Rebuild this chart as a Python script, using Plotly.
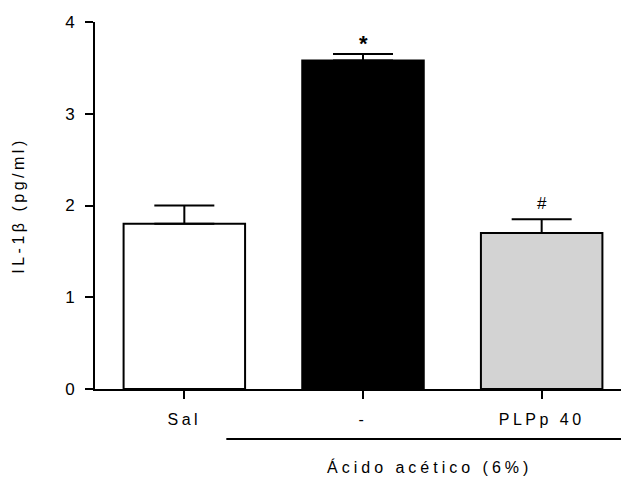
import plotly.graph_objects as go

categories = ["Sal", "-", "PLPp 40"]
means = [1.80, 3.58, 1.70]
errors = [0.20, 0.07, 0.15]
bar_colors = ["#ffffff", "#000000", "#d3d3d3"]
significance = ["", "*", "#"]
y_ticks = [0, 1, 2, 3, 4]
y_title = "IL-1β (pg/ml)"
group_label = "Ácido acético (6%)"

font = "Liberation Sans, Arial, sans-serif"


def spaced(t, px=2.5):
    return f'<span style="letter-spacing:{px}px">{t}</span>'


fig = go.Figure()
fig.add_trace(go.Bar(
    x=categories, y=means,
    width=0.68,
    marker=dict(color=bar_colors, line=dict(color="black", width=2)),
    error_y=dict(type="data", array=errors, arrayminus=[0]*len(errors),
                 symmetric=False, color="black", thickness=2, width=30),
    showlegend=False,
))

for c, m, e, s in zip(categories, means, errors, significance):
    if s:
        txt = "<b>*</b>" if s == "*" else s
        fig.add_annotation(x=c, y=m + e, text=txt, showarrow=False,
                           yanchor="bottom", yshift=-4 if s == "*" else 4,
                           font=dict(family=font, size=22 if s == "*" else 17, color="black"))

fig.add_shape(type="line", xref="x", yref="paper", x0=0.235, x1=2.5,
              y0=-0.136, y1=-0.136, line=dict(color="black", width=2))
fig.add_annotation(xref="x", yref="paper", x=1.37, y=-0.212, text=spaced(group_label, 4),
                   showarrow=False, yanchor="middle",
                   font=dict(family=font, size=16, color="black"))

fig.update_layout(
    width=623, height=469,
    margin=dict(l=87, r=0, t=14, b=88),
    plot_bgcolor="white", paper_bgcolor="white",
    font=dict(family=font, size=16, color="black"),
)
fig.update_xaxes(range=[-0.5, 2.5], showline=True, linecolor="black", linewidth=2,
                 tickvals=categories, ticktext=[spaced(c, 3.5) for c in categories],
                 ticks="outside", ticklen=8, tickwidth=2, tickcolor="black",
                 ticklabelstandoff=7,
                 showgrid=False, tickfont=dict(size=16), zeroline=False)
fig.update_yaxes(range=[0, 4], tickvals=y_ticks, showline=True, linecolor="black",
                 linewidth=2, ticks="outside", ticklen=8, tickwidth=2, tickcolor="black",
                 ticklabelstandoff=7,
                 showgrid=False, zeroline=False, tickfont=dict(size=17),
                 title=dict(text=spaced(y_title, 3.5), font=dict(size=16), standoff=37))

fig.write_html("out.html")
